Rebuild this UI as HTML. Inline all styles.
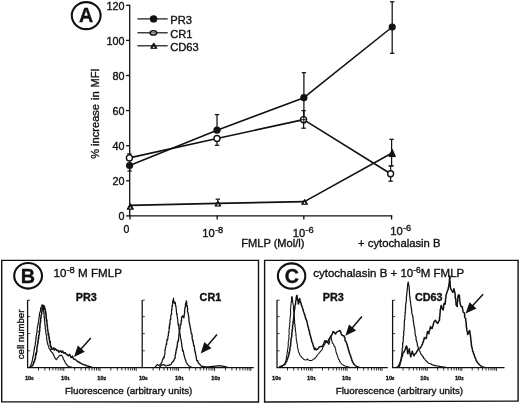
<!DOCTYPE html><html><head><meta charset="utf-8"><title>Figure</title>
<style>html,body{margin:0;padding:0;background:#fff}svg{display:block}text{font-family:"Liberation Sans", Arial, Helvetica, sans-serif;fill:#111;stroke:#111;stroke-width:0.35px}</style></head><body>
<svg width="520" height="404" viewBox="0 0 520 404">
<rect x="0" y="0" width="520" height="404" fill="#fff"/>
<g stroke="#111" stroke-width="1.3" fill="none">
<path d="M129.7 4.7 V215.9 H392.2"/>
<path d="M126.1 215.9 H129.7"/>
<path d="M126.1 180.8 H129.7"/>
<path d="M126.1 145.7 H129.7"/>
<path d="M126.1 110.6 H129.7"/>
<path d="M126.1 75.5 H129.7"/>
<path d="M126.1 40.4 H129.7"/>
<path d="M126.1 5.3 H129.7"/>
<path d="M130.0 215.4 V219.5"/>
<path d="M217.2 215.4 V219.5"/>
<path d="M303.8 215.4 V219.5"/>
<path d="M391.6 215.4 V219.5"/>
</g>
<text x="124.4" y="220.1" font-size="10.8" text-anchor="end">0</text>
<text x="124.4" y="185.0" font-size="10.8" text-anchor="end">20</text>
<text x="124.4" y="149.9" font-size="10.8" text-anchor="end">40</text>
<text x="124.4" y="114.8" font-size="10.8" text-anchor="end">60</text>
<text x="124.4" y="79.7" font-size="10.8" text-anchor="end">80</text>
<text x="124.4" y="44.6" font-size="10.8" text-anchor="end">100</text>
<text x="124.4" y="9.5" font-size="10.8" text-anchor="end">120</text>
<text transform="translate(98.6 158.7) rotate(-90)" font-size="11.1">%</text>
<text transform="translate(98.6 145.9) rotate(-90)" font-size="11.1">increase</text>
<text transform="translate(98.6 99.9) rotate(-90)" font-size="11.1">in</text>
<text transform="translate(98.6 87.6) rotate(-90)" font-size="11.1">MFI</text>
<text x="126.4" y="232.8" font-size="10.5" text-anchor="middle">0</text>
<text x="202.3" y="236.6" font-size="11.2" text-anchor="start">10<tspan dy="-3.3" dx="0.3" font-size="9.2">-8</tspan></text>
<text x="292.7" y="236.5" font-size="11.2" text-anchor="start">10<tspan dy="-3.3" dx="0.3" font-size="9.2">-6</tspan></text>
<text x="390.3" y="234.6" font-size="11.2" text-anchor="start">10<tspan dy="-3.3" dx="0.3" font-size="9.2">-6</tspan></text>
<text x="241.2" y="246.9" font-size="11.1">FMLP (Mol/l)</text>
<text x="358.0" y="246.5" font-size="11.3">+ cytochalasin B</text>
<g stroke="#111" stroke-width="1.25" fill="none">
<path d="M129.6 165.5 V171.0" />
<path d="M127.4 171.0 H131.8" />
<path d="M217.0 114.6 V130.2" />
<path d="M214.8 114.6 H219.2" />
<path d="M303.9 72.7 V122.7" />
<path d="M301.7 72.7 H306.1" />
<path d="M301.7 122.7 H306.1" />
<path d="M392.2 1.8 V53.3" />
<path d="M390.0 1.8 H394.4" />
<path d="M390.0 53.3 H394.4" />
<path d="M129.4 153.9 V157.9" />
<path d="M127.2 153.9 H131.6" />
<path d="M217.0 138.5 V145.3" />
<path d="M214.8 145.3 H219.2" />
<path d="M303.6 110.6 V128.2" />
<path d="M301.4 110.6 H305.8" />
<path d="M301.4 128.2 H305.8" />
<path d="M390.6 166.0 V181.2" />
<path d="M388.4 166.0 H392.8" />
<path d="M388.4 181.2 H392.8" />
<path d="M217.8 199.2 V203.4" />
<path d="M215.6 199.2 H220.0" />
<path d="M391.6 139.3 V165.8" />
<path d="M389.4 139.3 H393.8" />
<path d="M389.4 165.8 H393.8" />
</g>
<g stroke="#111" stroke-width="1.6" fill="none" stroke-linejoin="round">
<polyline points="129.6,165.5 217.0,130.2 303.9,97.7 392.2,27.0"/>
<polyline points="129.4,157.9 217.0,138.5 303.6,119.6 390.6,173.8"/>
<polyline points="129.6,205.4 217.8,203.4 304.4,201.6 391.6,153.3"/>
</g>
<circle cx="129.6" cy="165.5" r="3.6" fill="#111"/>
<circle cx="217.0" cy="130.2" r="3.6" fill="#111"/>
<circle cx="303.9" cy="97.7" r="3.6" fill="#111"/>
<circle cx="392.2" cy="27.0" r="3.6" fill="#111"/>
<circle cx="129.4" cy="157.9" r="3.0" fill="#fff" stroke="#111" stroke-width="1.4"/>
<circle cx="217.0" cy="138.5" r="3.0" fill="#fff" stroke="#111" stroke-width="1.4"/>
<circle cx="303.6" cy="119.6" r="3.0" fill="#fff" stroke="#111" stroke-width="1.4"/>
<circle cx="390.6" cy="173.8" r="3.0" fill="#fff" stroke="#111" stroke-width="1.4"/>
<path d="M130.30 203.60 L133.45 209.20 L127.15 209.20 Z" fill="#111" stroke="#111" stroke-width="1" stroke-linejoin="miter"/><path d="M130.30 206.70 L131.45 208.60 L129.15 208.60 Z" fill="#fff"/>
<path d="M217.90 201.00 L220.85 206.10 L214.95 206.10 Z" fill="#111" stroke="#111" stroke-width="1" stroke-linejoin="miter"/><path d="M217.90 203.60 L219.05 205.50 L216.75 205.50 Z" fill="#fff"/>
<path d="M304.60 199.30 L307.55 204.30 L301.65 204.30 Z" fill="#111" stroke="#111" stroke-width="1" stroke-linejoin="miter"/><path d="M304.60 201.80 L305.75 203.70 L303.45 203.70 Z" fill="#fff"/>
<path d="M392.20 149.20 L395.45 156.60 L388.95 156.60 Z" fill="#111" stroke="#111" stroke-width="1" stroke-linejoin="miter"/>
<path d="M303.8 110 V124" stroke="#111" stroke-width="1.1"/>
<path d="M300.6 119.6 H306.8" stroke="#111" stroke-width="0.8"/>
<g stroke="#111" stroke-width="1.2" fill="none">
<path d="M137.4 18.9 H167.7"/>
<path d="M137.4 32.8 H167.7"/>
<path d="M137.4 45.8 H167.7"/>
</g>
<circle cx="153.6" cy="18.9" r="3.7" fill="#111"/>
<ellipse cx="153.4" cy="32.9" rx="3.3" ry="2.1" fill="#fff" stroke="#111" stroke-width="1.4"/>
<path d="M150 32.9 H157" stroke="#111" stroke-width="0.9"/>
<path d="M153.80 42.90 L156.95 48.30 L150.65 48.30 Z" fill="#111" stroke="#111" stroke-width="1" stroke-linejoin="miter"/><path d="M153.80 45.80 L154.95 47.70 L152.65 47.70 Z" fill="#fff"/>
<path d="M151 45.9 H156" stroke="#111" stroke-width="0.9"/>
<text x="170.2" y="23.8" font-size="11.2">PR3</text>
<text x="170.2" y="37.6" font-size="11.2">CR1</text>
<text x="170.2" y="50.7" font-size="11.2">CD63</text>
<ellipse cx="86.2" cy="15.6" rx="14.4" ry="13.5" fill="none" stroke="#111" stroke-width="2.1"/>
<text x="86.1" y="22.4" font-size="19.6" font-weight="bold" text-anchor="middle" stroke-width="0.4">A</text>
<g stroke="#111" stroke-width="1.4" fill="none">
<path d="M1.7 260.4 H258.5 V402.0 L1.7 401.8 Z"/>
<path d="M264.6 260.4 H518.1 V401.1 L264.6 402.0 Z"/>
</g>
<ellipse cx="28.1" cy="275.8" rx="13.9" ry="12.8" fill="none" stroke="#111" stroke-width="2.1"/>
<text x="27.9" y="283.0" font-size="19.8" font-weight="bold" text-anchor="middle" stroke-width="0.4">B</text>
<ellipse cx="291.6" cy="276.0" rx="13.7" ry="12.6" fill="none" stroke="#111" stroke-width="2.1"/>
<text x="291.8" y="283.0" font-size="19.6" font-weight="bold" text-anchor="middle" stroke-width="0.4">C</text>
<text x="53.6" y="277" font-size="11.6">10<tspan dy="-3.8" font-size="9.4">-8</tspan><tspan dy="3.8"> M FMLP</tspan></text>
<text x="313.2" y="276.8" font-size="11.5">cytochalasin B + 10<tspan dy="-4" font-size="8.5">-6</tspan><tspan dy="4">M FMLP</tspan></text>
<text x="64.9" y="393.7" font-size="9.8">Fluorescence (arbitrary units)</text>
<text x="335.7" y="393.7" font-size="9.8">Fluorescence (arbitrary units)</text>
<text transform="translate(24.2 334.4) rotate(-90)" font-size="9.6" text-anchor="middle" stroke-width="0.35">cell number</text>
<text x="75.7" y="301.0" font-size="10.8" font-weight="bold" stroke-width="0.15">PR3</text>
<text x="199.6" y="301.0" font-size="10.8" font-weight="bold" stroke-width="0.15">CR1</text>
<text x="322.8" y="301.0" font-size="10.8" font-weight="bold" stroke-width="0.15">PR3</text>
<text x="414.9" y="301.0" font-size="10.8" font-weight="bold" stroke-width="0.15">CD63</text>
<g stroke="#111" stroke-width="1.1" fill="none">
<path d="M27.6 300.0 V367.6 H142.1" stroke-width="1.25"/>
<path d="M27.6 300.2 H30.2" stroke-width="0.8"/>
<path d="M27.6 316.6 H30.2" stroke-width="0.8"/>
<path d="M27.6 333.6 H30.2" stroke-width="0.8"/>
<path d="M27.6 350.8 H30.2" stroke-width="0.8"/>
</g>
<g stroke="#111" stroke-width="0.85" fill="none">
<path d="M38.5 367.6v2.9M44.9 367.6v2.9M49.4 367.6v2.9M52.9 367.6v2.9M55.8 367.6v2.9M58.2 367.6v2.9M60.3 367.6v2.9M62.1 367.6v2.9M63.8 367.6v3.4M74.7 367.6v2.9M81.1 367.6v2.9M85.6 367.6v2.9M89.1 367.6v2.9M92.0 367.6v2.9M94.4 367.6v2.9M96.5 367.6v2.9M98.3 367.6v2.9M100.0 367.6v3.4M110.9 367.6v2.9M117.3 367.6v2.9M121.8 367.6v2.9M125.3 367.6v2.9M128.2 367.6v2.9M130.6 367.6v2.9M132.7 367.6v2.9M134.5 367.6v2.9M136.2 367.6v3.4"/>
</g>
<text x="29.2" y="379.5" font-size="5.7" font-weight="bold" text-anchor="middle">10<tspan font-size="4" dy="0.5">0</tspan></text>
<text x="65.4" y="379.5" font-size="5.7" font-weight="bold" text-anchor="middle">10<tspan font-size="4" dy="0.5">1</tspan></text>
<text x="101.6" y="379.5" font-size="5.7" font-weight="bold" text-anchor="middle">10<tspan font-size="4" dy="0.5">2</tspan></text>
<g stroke="#111" stroke-width="1.1" fill="none">
<path d="M142.2 300.0 V367.6 H253.8" stroke-width="1.25"/>
<path d="M142.2 300.2 H144.8" stroke-width="0.8"/>
<path d="M142.2 316.6 H144.8" stroke-width="0.8"/>
<path d="M142.2 333.6 H144.8" stroke-width="0.8"/>
<path d="M142.2 350.8 H144.8" stroke-width="0.8"/>
</g>
<g stroke="#111" stroke-width="0.85" fill="none">
<path d="M153.1 367.6v2.9M159.5 367.6v2.9M164.0 367.6v2.9M167.5 367.6v2.9M170.4 367.6v2.9M172.8 367.6v2.9M174.9 367.6v2.9M176.7 367.6v2.9M178.4 367.6v3.4M189.3 367.6v2.9M195.7 367.6v2.9M200.2 367.6v2.9M203.7 367.6v2.9M206.6 367.6v2.9M209.0 367.6v2.9M211.1 367.6v2.9M212.9 367.6v2.9M214.6 367.6v3.4M225.5 367.6v2.9M231.9 367.6v2.9M236.4 367.6v2.9M239.9 367.6v2.9M242.8 367.6v2.9M245.2 367.6v2.9M247.3 367.6v2.9M249.1 367.6v2.9M250.8 367.6v3.4"/>
</g>
<text x="143.2" y="379.5" font-size="5.7" font-weight="bold" text-anchor="middle">10<tspan font-size="4" dy="0.5">0</tspan></text>
<text x="179.4" y="379.5" font-size="5.7" font-weight="bold" text-anchor="middle">10<tspan font-size="4" dy="0.5">1</tspan></text>
<text x="215.6" y="379.5" font-size="5.7" font-weight="bold" text-anchor="middle">10<tspan font-size="4" dy="0.5">2</tspan></text>
<g stroke="#111" stroke-width="1.1" fill="none">
<path d="M277.0 300.0 V367.6 H387.8" stroke-width="1.25"/>
<path d="M277.0 300.2 H279.6" stroke-width="0.8"/>
<path d="M277.0 316.6 H279.6" stroke-width="0.8"/>
<path d="M277.0 333.6 H279.6" stroke-width="0.8"/>
<path d="M277.0 350.8 H279.6" stroke-width="0.8"/>
</g>
<g stroke="#111" stroke-width="0.85" fill="none">
<path d="M287.5 367.6v2.9M293.7 367.6v2.9M298.1 367.6v2.9M301.5 367.6v2.9M304.2 367.6v2.9M306.6 367.6v2.9M308.6 367.6v2.9M310.4 367.6v2.9M312.0 367.6v3.4M322.5 367.6v2.9M328.7 367.6v2.9M333.1 367.6v2.9M336.5 367.6v2.9M339.2 367.6v2.9M341.6 367.6v2.9M343.6 367.6v2.9M345.4 367.6v2.9M347.0 367.6v3.4M357.5 367.6v2.9M363.7 367.6v2.9M368.1 367.6v2.9M371.5 367.6v2.9M374.2 367.6v2.9M376.6 367.6v2.9M378.6 367.6v2.9M380.4 367.6v2.9M382.0 367.6v3.4"/>
</g>
<text x="276.4" y="379.5" font-size="5.7" font-weight="bold" text-anchor="middle">10<tspan font-size="4" dy="0.5">0</tspan></text>
<text x="311.4" y="379.5" font-size="5.7" font-weight="bold" text-anchor="middle">10<tspan font-size="4" dy="0.5">1</tspan></text>
<text x="346.4" y="379.5" font-size="5.7" font-weight="bold" text-anchor="middle">10<tspan font-size="4" dy="0.5">2</tspan></text>
<g stroke="#111" stroke-width="1.1" fill="none">
<path d="M392.6 300.0 V367.6 H504.5" stroke-width="1.25"/>
<path d="M392.6 300.2 H395.2" stroke-width="0.8"/>
<path d="M392.6 316.6 H395.2" stroke-width="0.8"/>
<path d="M392.6 333.6 H395.2" stroke-width="0.8"/>
<path d="M392.6 350.8 H395.2" stroke-width="0.8"/>
</g>
<g stroke="#111" stroke-width="0.85" fill="none">
<path d="M403.0 367.6v2.9M409.1 367.6v2.9M413.4 367.6v2.9M416.8 367.6v2.9M419.5 367.6v2.9M421.8 367.6v2.9M423.8 367.6v2.9M425.6 367.6v2.9M427.2 367.6v3.4M437.6 367.6v2.9M443.7 367.6v2.9M448.0 367.6v2.9M451.4 367.6v2.9M454.1 367.6v2.9M456.4 367.6v2.9M458.4 367.6v2.9M460.2 367.6v2.9M461.8 367.6v3.4M472.2 367.6v2.9M478.3 367.6v2.9M482.6 367.6v2.9M486.0 367.6v2.9M488.7 367.6v2.9M491.0 367.6v2.9M493.0 367.6v2.9M494.8 367.6v2.9M496.4 367.6v3.4"/>
</g>
<text x="390.0" y="379.5" font-size="5.7" font-weight="bold" text-anchor="middle">10<tspan font-size="4" dy="0.5">0</tspan></text>
<text x="424.6" y="379.5" font-size="5.7" font-weight="bold" text-anchor="middle">10<tspan font-size="4" dy="0.5">1</tspan></text>
<text x="459.2" y="379.5" font-size="5.7" font-weight="bold" text-anchor="middle">10<tspan font-size="4" dy="0.5">2</tspan></text>
<polyline points="29.6,367.3 30.0,366.5 30.5,365.5 30.9,365.0 31.3,363.8 31.7,363.1 31.9,362.2 32.1,360.8 32.3,361.1 32.4,360.0 32.7,357.9 32.9,357.9 32.9,356.0 33.4,355.9 33.4,355.8 33.6,355.0 33.6,353.9 33.7,353.2 34.1,350.8 33.9,350.1 34.4,349.6 34.4,348.4 34.5,347.7 34.5,347.2 34.8,346.8 35.0,345.9 35.2,345.1 35.3,342.6 35.5,343.2 35.7,341.5 35.8,339.9 36.0,339.6 35.8,337.7 36.2,338.5 36.0,337.2 36.3,335.1 36.4,335.3 36.8,333.0 36.8,332.0 37.0,331.6 37.2,331.9 37.1,331.0 37.2,328.3 37.5,327.3 37.4,327.0 37.8,325.6 37.6,326.0 37.9,325.2 38.3,323.2 38.2,322.5 38.5,321.7 38.6,320.8 38.9,319.6 38.8,319.1 38.9,317.4 39.4,316.8 39.4,314.9 39.4,315.0 39.4,314.2 39.9,312.2 40.1,312.0 40.4,310.9 40.6,310.6 40.5,308.4 41.1,309.2 41.1,307.3 41.6,306.2 41.9,305.3 42.2,304.8 42.5,305.5 43.0,306.0 43.2,308.4 43.2,308.5 43.6,309.5 43.4,310.9 43.8,311.3 43.7,312.7 44.1,313.9 44.2,314.4 44.0,316.2 44.4,316.7 44.1,317.0 44.4,318.0 44.6,320.1 44.4,320.0 44.8,321.6 44.9,321.9 44.6,322.7 45.0,323.6 44.9,324.8 45.1,325.6 45.4,326.1 45.1,328.5 45.6,329.5 45.5,330.3 45.8,329.8 45.8,331.9 45.9,332.2 45.8,332.8 45.9,333.2 46.2,334.5 46.4,334.9 46.6,337.0 46.8,338.3 46.9,338.6 46.6,339.8 46.8,339.9 47.2,341.2 47.3,342.8 47.7,342.7 47.8,344.6 48.2,345.5 48.4,345.5 48.8,347.4 49.0,348.2 49.8,349.1 50.2,348.9 50.5,350.8 50.8,350.9 51.5,351.9 52.2,352.6 52.8,352.9 53.0,353.9 53.5,354.8 54.4,356.7 54.6,357.4 55.3,358.4 56.3,359.7 57.0,358.8 57.4,358.0 58.0,357.4 58.9,356.3 59.8,355.4 61.3,355.3 62.1,356.0 62.8,357.2 63.0,357.8 63.5,359.3 64.0,360.2 64.5,360.7 65.1,362.2 65.5,363.0 66.1,364.0 66.7,364.5 67.3,365.5 68.0,366.0 68.8,366.6 69.9,366.8 70.9,367.0 72.0,367.2" fill="none" stroke="#111" stroke-width="1.15" stroke-linejoin="round"/>
<polyline points="31.0,367.3 31.5,366.5 32.1,365.8 32.7,365.3 33.3,364.1 33.5,363.2 33.7,361.9 34.0,362.5 34.5,361.4 34.8,359.0 34.8,359.3 35.3,359.0 35.6,356.0 35.6,356.7 35.7,354.4 35.9,353.3 36.3,354.6 36.3,352.1 36.6,352.0 36.8,351.9 36.8,349.8 37.0,348.9 36.9,347.6 37.4,346.0 37.1,346.7 37.4,345.6 37.6,344.1 38.0,342.8 37.8,341.9 38.1,341.2 38.1,341.6 38.2,340.2 38.6,338.0 38.3,337.4 38.8,337.6 38.6,335.9 38.7,335.3 38.8,335.1 39.3,334.9 39.4,333.9 39.1,331.2 39.7,331.6 39.5,331.2 39.8,329.9 39.7,327.2 39.9,326.1 40.0,327.4 40.0,323.8 40.0,323.3 40.5,322.9 40.4,321.2 40.8,321.1 40.5,319.1 40.6,318.5 41.0,317.5 40.8,317.5 41.0,318.0 41.1,315.7 41.5,314.4 41.8,313.7 41.6,312.6 41.6,311.7 41.8,312.0 42.3,310.0 42.1,308.4 42.4,307.3 42.6,308.2 42.8,305.5 43.9,305.4 44.1,306.1 44.2,307.9 44.3,309.2 44.4,306.4 44.6,307.4 45.0,308.5 44.9,308.7 45.2,309.6 45.3,310.2 45.4,311.5 45.3,313.2 45.8,311.8 45.9,315.3 45.9,313.7 46.1,315.0 46.3,317.5 46.0,317.1 46.4,319.1 46.5,321.0 46.4,319.3 46.9,320.2 46.9,321.4 47.0,324.2 47.2,324.4 47.3,324.4 47.3,325.6 47.5,327.8 47.4,328.1 47.4,327.7 47.8,330.0 48.1,331.3 47.9,331.6 48.3,333.1 48.1,334.9 48.7,333.8 48.7,335.6 49.0,336.3 48.9,337.7 49.4,337.5 49.2,339.9 49.7,340.5 49.7,342.4 50.1,341.1 50.3,342.4 50.3,345.1 50.5,345.9 50.6,346.8 51.0,346.1 51.5,347.4 51.8,349.3 52.7,349.1 52.9,349.1 53.4,348.2 53.9,347.9 54.3,350.1 55.3,348.9 56.2,349.6 56.7,350.5 57.7,350.3 58.4,351.3 58.9,352.1 60.3,350.8 60.8,351.0 61.5,352.4 62.7,351.0 63.0,352.0 64.0,353.2 65.2,352.6 65.6,353.5 66.3,354.3 67.4,354.8 67.8,355.3 68.5,355.8 69.6,354.4 70.6,356.8 71.2,357.6 72.4,356.1 72.8,357.4 73.4,358.7 74.9,359.4 75.8,360.0 76.8,360.7 77.4,361.3 78.1,361.9 79.0,362.1 79.9,362.8 80.5,363.0 81.5,363.7 82.5,364.2 83.4,364.5 84.5,364.9 85.5,365.3 86.6,365.8 87.5,366.1 88.4,366.3 89.3,366.5 90.2,366.8 91.1,367.0 92.0,367.2" fill="none" stroke="#111" stroke-width="1.50" stroke-linejoin="round"/>
<polyline points="155.0,367.3 155.7,366.5 156.3,365.6 157.2,364.6 158.2,365.1 159.1,365.3 160.0,364.6 161.0,364.1 161.2,362.8 161.7,362.8 162.2,360.8 162.6,359.8 162.9,358.8 163.0,359.5 163.5,357.1 164.2,357.8 164.1,357.2 164.4,355.5 164.4,355.3 164.8,354.5 165.0,351.7 164.9,350.5 165.0,349.3 165.2,349.9 165.3,349.2 165.6,347.3 166.0,346.8 165.9,345.9 166.3,343.9 166.6,342.9 166.7,344.3 166.5,343.3 166.9,341.8 166.9,339.4 167.1,341.1 167.3,339.6 167.9,339.3 167.8,336.7 168.0,337.0 168.0,336.1 168.5,335.5 168.3,334.8 168.5,332.1 168.9,332.8 168.9,331.9 169.1,329.2 169.1,327.9 169.1,326.8 169.6,328.2 169.4,324.6 170.0,325.0 169.8,323.2 170.0,323.9 170.1,321.9 170.0,322.3 170.1,320.2 170.7,318.3 170.7,319.6 170.8,318.2 170.7,316.3 170.8,316.5 171.0,314.5 171.5,314.7 171.6,312.7 171.5,312.5 171.6,310.3 171.7,309.0 171.7,310.5 172.1,308.6 172.0,306.8 171.9,305.8 172.4,306.5 172.3,305.4 172.6,304.2 172.7,303.5 172.6,302.5 172.7,301.0 173.2,300.5 173.2,300.1 173.6,298.0 173.4,299.0 173.7,300.4 173.9,301.8 174.1,302.8 174.1,303.3 174.7,302.7 174.9,302.0 175.3,302.5 175.5,304.2 175.4,303.9 175.4,305.7 175.9,305.6 175.9,307.3 176.0,306.7 176.2,308.8 176.3,309.3 176.4,311.2 176.5,312.0 176.4,311.4 176.7,313.6 176.7,314.6 177.1,313.8 177.1,315.2 177.0,315.8 177.3,316.9 177.4,317.4 177.6,319.3 177.9,320.8 177.8,322.6 177.8,322.1 178.1,323.0 178.1,325.1 178.4,323.8 178.7,324.9 178.8,326.5 178.9,329.1 179.2,328.6 179.4,330.1 179.3,329.6 179.5,331.7 179.9,333.8 179.9,333.0 180.1,333.0 179.9,335.5 180.3,335.2 180.5,338.2 180.5,337.9 180.6,338.4 181.1,339.6 181.3,342.0 181.2,341.1 181.6,342.6 181.5,343.0 181.9,344.4 181.7,345.3 181.8,346.6 182.1,346.6 182.5,349.0 182.3,349.1 182.6,351.2 183.1,350.2 183.1,351.0 183.6,352.3 183.7,353.8 183.9,355.1 184.2,354.8 184.4,356.3 184.7,357.3 184.9,358.7 185.3,359.3 185.8,360.7 185.9,361.0 186.4,362.9 187.1,363.3 187.4,364.3 188.0,364.9 188.6,365.7 189.6,366.3 190.6,366.8 191.6,367.3" fill="none" stroke="#111" stroke-width="1.20" stroke-linejoin="round"/>
<polyline points="159.5,367.3 160.2,366.5 160.8,365.8 161.5,365.1 162.5,364.8 163.5,364.6 164.4,364.9 165.2,365.5 166.0,366.0 167.3,365.5 168.5,365.3 169.6,364.8 170.5,364.8 171.3,363.8 171.7,362.8 172.4,362.1 173.2,361.7 173.3,360.9 173.8,360.6 174.5,358.8 174.8,358.2 175.3,358.1 175.1,355.4 175.5,354.3 175.7,352.7 176.0,353.0 175.9,352.4 176.1,350.1 176.4,348.9 176.5,350.0 176.9,346.6 177.1,345.8 177.0,347.3 177.3,344.8 177.4,344.1 177.4,344.9 177.5,342.4 178.0,341.4 178.3,340.1 178.5,341.0 178.5,340.1 178.5,339.0 178.8,337.2 178.8,336.8 178.9,334.2 179.2,333.7 179.2,334.3 179.2,331.2 179.3,331.9 179.6,330.0 179.8,331.0 179.8,328.6 180.3,328.2 180.1,326.9 180.3,325.1 180.5,324.6 180.8,323.7 180.9,324.6 181.2,322.1 181.2,321.0 181.3,320.5 181.6,320.9 181.5,317.3 181.8,316.9 182.1,317.1 182.7,315.7 183.9,317.9 184.3,314.5 184.1,316.0 184.4,313.6 184.6,313.7 184.6,311.8 184.5,310.5 184.7,310.3 185.0,307.9 185.1,306.8 185.0,307.4 185.3,307.1 185.6,305.6 185.4,304.9 185.6,303.3 186.1,303.1 186.3,300.9 186.3,300.8 186.1,302.2 186.7,301.8 186.7,302.9 186.6,304.6 186.6,305.8 187.2,305.4 187.3,305.8 187.4,307.4 187.6,308.8 187.7,308.6 187.4,311.8 187.8,312.0 187.7,311.9 188.0,312.6 188.5,315.5 188.6,316.3 188.4,315.5 188.8,316.6 188.8,318.5 188.9,318.3 188.9,320.5 189.0,321.4 189.2,321.7 189.4,323.4 189.6,323.4 189.7,325.2 190.2,325.8 190.0,326.4 190.3,328.1 190.7,329.0 190.6,329.3 190.9,330.6 191.1,333.1 191.4,333.1 191.7,334.0 192.0,334.1 192.0,336.7 192.0,336.7 192.2,336.0 192.2,338.8 192.4,339.6 192.6,339.5 192.7,340.9 193.2,340.9 193.3,343.8 193.3,343.4 193.7,345.4 193.6,345.7 193.7,345.1 194.3,345.8 194.5,348.6 194.5,349.5 194.7,349.1 194.7,349.8 195.1,352.3 195.2,351.6 195.4,352.7 195.7,355.0 196.1,355.8 196.2,356.9 196.1,357.4 196.3,357.7 196.6,360.0 196.9,360.8 197.7,360.7 197.9,360.9 198.0,361.9 198.4,363.1 199.4,364.0 200.2,364.8 200.9,365.6 201.8,366.5 202.8,366.5 203.9,366.6 204.9,366.7 205.9,366.8 207.0,366.9 208.0,367.0 209.0,366.9 210.0,366.7 211.0,366.6 212.0,366.5 213.0,366.4 214.0,366.3 215.0,366.1 215.9,366.1 216.8,365.9 217.7,365.8 218.7,365.9 219.6,365.6 220.7,365.8 221.8,366.1 222.9,366.2 224.0,366.3 225.2,366.7 226.3,367.0 227.4,367.3" fill="none" stroke="#111" stroke-width="1.30" stroke-linejoin="round"/>
<polyline points="279.1,367.2 280.0,366.8 280.9,366.5 281.8,366.2 282.9,365.6 284.1,364.9 284.7,364.0 285.2,362.4 285.6,362.2 285.8,360.7 286.2,359.3 286.4,358.7 286.2,357.4 286.5,357.2 286.6,355.8 287.1,354.4 287.2,353.0 287.0,352.3 287.5,351.6 287.4,350.9 287.6,349.5 287.9,349.1 287.8,347.9 288.0,347.4 288.2,345.6 288.4,344.4 288.2,344.3 288.2,342.9 288.2,342.2 288.6,341.1 288.8,339.7 288.8,339.2 288.8,338.1 289.0,337.8 288.9,336.5 288.7,335.6 289.1,335.0 289.3,333.1 289.1,332.7 289.0,331.5 289.1,330.1 289.1,330.0 289.2,328.3 289.4,328.2 289.3,326.7 289.6,326.3 289.8,325.3 289.6,323.7 289.7,323.4 290.1,321.4 289.8,320.6 289.9,320.0 290.1,318.7 289.9,317.9 290.1,317.2 290.5,316.4 290.4,315.3 290.5,313.6 290.7,313.6 290.7,312.7 290.6,311.1 290.5,310.5 290.5,308.8 290.7,308.0 290.8,306.9 290.7,306.1 290.8,305.5 290.9,305.3 291.2,303.4 291.1,302.7 291.2,301.5 291.6,301.7 291.5,300.0 291.4,298.5 291.6,297.7 292.0,296.6 291.7,296.7 292.1,296.6 292.3,297.4 292.4,299.7 292.8,300.3 292.6,300.8 292.7,302.4 293.0,303.5 293.0,303.7 293.3,305.8 293.5,306.6 293.5,307.5 293.3,308.2 293.5,308.5 293.4,309.8 293.6,311.3 294.1,312.0 294.1,313.7 294.2,313.8 293.9,314.6 294.0,315.5 294.3,317.4 294.5,317.7 294.5,319.1 294.3,319.9 294.7,321.0 294.7,321.5 294.5,322.9 294.7,323.9 295.1,324.2 294.9,326.0 295.2,325.8 295.0,326.7 295.4,328.6 295.1,329.6 295.7,330.3 295.4,331.1 295.4,331.3 296.0,333.1 295.9,334.5 295.9,335.4 296.2,335.4 296.1,336.5 296.2,337.9 296.3,338.6 296.4,340.3 296.6,340.6 296.9,342.2 296.9,343.2 297.1,343.7 297.3,343.9 297.4,345.2 297.4,347.1 297.6,347.7 298.1,348.9 298.1,349.9 298.4,351.2 298.5,351.9 298.9,352.6 299.5,353.8 299.9,355.1 300.6,355.9 301.3,356.7 302.0,357.7 302.8,358.4 303.7,359.2 304.7,359.7 305.7,359.9 306.5,359.9 307.6,359.0 308.3,359.9 309.4,360.5 310.4,360.5 311.7,360.4 312.4,360.1 313.5,359.0 314.5,358.9 315.1,358.2 315.8,357.1 316.7,356.6 316.9,355.6 317.7,354.8 318.2,354.0 319.1,353.1 319.6,352.7 320.0,351.9 320.9,351.1 321.2,350.6 322.2,349.7 322.5,348.1 322.8,347.8 323.3,346.2 323.7,346.2 324.3,344.6 324.7,344.1 325.6,342.8 325.9,341.2 326.7,340.6 327.1,341.7 328.1,342.3 328.3,343.3 328.9,344.5 329.3,342.7 329.6,342.4 329.7,340.2 330.0,339.2 330.1,338.0 330.3,336.9 330.7,335.9 331.2,337.0 331.3,338.0 331.5,338.9 331.7,340.1 332.2,342.0 332.2,343.1 333.2,343.7 333.8,344.9 334.2,346.0 334.8,346.5 335.2,348.0 335.3,348.7 335.7,349.3 335.8,349.8 335.8,350.5 336.1,352.4 336.5,352.7 336.7,354.4 337.4,355.1 337.4,355.4 337.7,356.6 338.0,357.6 338.5,359.2 339.2,359.7 339.4,361.0 340.0,361.5 340.4,362.5 341.2,363.3 341.7,364.0 342.3,364.6 343.2,365.1 344.1,365.5 345.0,366.0 346.1,366.3 347.1,366.6 348.2,366.9 349.1,367.1 350.1,367.2 351.0,367.4" fill="none" stroke="#111" stroke-width="1.05" stroke-linejoin="round"/>
<polyline points="279.1,367.2 280.2,366.7 281.3,366.2 282.5,365.8 283.4,365.2 284.3,364.6 285.1,364.1 285.6,362.9 286.1,361.9 286.8,361.3 287.1,359.6 287.4,359.4 287.7,358.0 288.2,357.1 288.4,356.2 288.7,355.3 289.1,354.3 288.9,352.8 289.5,352.4 289.3,352.0 289.7,350.8 290.0,349.4 289.9,349.1 290.0,348.0 290.1,347.0 290.5,346.3 290.7,344.9 290.5,343.5 290.8,342.9 290.7,342.4 291.1,341.2 291.0,339.7 291.1,338.8 291.3,338.0 291.5,337.5 291.8,335.8 291.7,334.9 291.9,334.8 291.8,333.7 292.0,331.9 292.3,331.4 292.1,330.5 292.3,329.6 292.5,328.7 292.6,327.6 292.5,326.5 292.5,326.1 292.8,325.5 292.9,324.4 293.3,322.8 292.9,322.0 293.1,321.6 293.4,320.4 293.6,319.2 293.6,318.5 293.7,317.4 293.9,317.3 294.0,316.2 293.7,315.7 293.9,313.8 294.1,313.3 294.2,312.0 294.1,311.5 294.4,310.1 294.5,309.8 294.8,308.6 294.8,307.3 294.9,306.1 295.2,304.9 295.5,304.4 295.6,302.6 295.6,302.0 295.6,301.6 296.1,300.0 296.2,298.7 296.1,298.1 296.6,297.2 296.4,296.2 297.0,295.4 297.2,296.5 297.0,296.7 297.3,298.3 297.4,299.2 297.8,299.6 297.8,301.0 298.1,301.2 298.3,302.0 298.2,303.8 298.6,304.0 298.4,303.4 298.9,302.6 299.1,301.7 299.2,300.7 299.2,299.5 299.6,298.6 300.0,299.3 299.9,300.5 300.3,301.1 300.5,302.4 300.8,302.8 301.3,303.9 301.3,305.2 301.6,305.5 302.2,306.8 302.3,307.2 302.7,308.4 303.0,309.2 303.3,310.6 303.4,311.5 304.0,312.8 304.4,313.6 304.3,314.4 304.9,314.9 305.1,316.7 305.7,317.8 305.6,318.5 306.3,319.5 306.4,319.9 307.0,321.8 307.1,322.3 307.4,323.7 307.6,324.5 307.7,325.2 307.9,326.3 308.3,327.1 308.6,328.3 308.6,329.3 309.0,330.5 309.5,331.1 309.5,332.4 309.7,333.9 309.9,334.2 310.4,335.9 310.8,336.8 310.8,338.0 311.2,338.5 311.4,339.9 311.8,340.8 311.7,341.4 312.2,342.3 312.7,343.4 313.1,344.9 313.3,345.9 313.8,347.1 314.1,348.3 314.4,349.3 314.6,349.7 315.6,348.2 315.7,349.2 316.2,349.8 317.1,349.4 317.9,348.8 318.9,347.3 319.6,346.8 321.1,346.5 322.6,346.2 322.9,345.2 323.3,344.9 323.7,343.8 324.3,342.3 324.7,341.3 324.8,340.7 326.0,342.0 327.4,342.7 328.1,341.2 328.5,340.1 328.8,339.5 329.6,338.3 330.2,337.4 330.8,336.3 331.5,335.6 331.9,334.4 332.6,333.3 332.9,332.1 333.0,331.6 334.6,332.5 334.8,333.1 335.6,333.9 336.5,332.3 337.5,331.6 338.7,331.1 339.9,330.5 340.5,331.5 340.9,332.6 341.2,333.7 341.6,334.8 342.8,335.5 343.9,335.8 344.3,336.6 344.5,337.5 345.0,338.1 345.0,339.8 345.2,340.8 345.8,341.3 346.2,342.3 346.8,343.3 346.8,344.2 347.4,345.2 347.5,346.8 348.0,347.4 348.2,348.2 348.3,349.4 348.7,350.4 349.1,351.4 349.2,352.5 349.5,352.9 349.9,354.3 350.3,355.1 350.6,355.4 350.5,356.1 351.1,357.7 351.4,358.1 351.6,359.2 351.8,360.2 352.2,360.7 352.5,362.0 353.2,362.9 353.9,364.1 354.8,365.0 355.7,365.7 356.5,366.4 357.6,366.7 358.7,367.1 359.8,367.4" fill="none" stroke="#111" stroke-width="1.50" stroke-linejoin="round"/>
<polyline points="396.6,367.4 397.3,366.8 398.1,366.1 398.7,365.1 399.2,364.3 399.7,363.3 400.1,362.5 400.4,361.3 400.5,360.3 400.9,360.5 401.2,359.4 401.3,358.4 401.3,356.7 401.7,356.3 401.7,354.4 401.7,353.6 401.8,353.5 401.9,352.6 402.4,350.3 402.2,350.1 402.1,349.0 402.7,347.6 402.6,346.7 402.7,346.9 402.6,344.6 402.6,344.5 402.7,342.9 403.0,343.2 403.1,341.5 403.3,340.1 403.3,339.2 403.4,339.5 403.2,337.9 403.5,336.3 403.4,336.6 403.9,334.3 403.8,334.6 403.7,333.1 403.6,331.7 404.0,331.1 404.1,329.4 404.0,329.6 404.2,328.0 404.1,327.9 404.3,325.4 404.4,324.9 404.3,323.8 404.4,323.0 404.3,322.5 404.3,321.8 404.4,320.8 404.8,319.5 404.9,318.1 404.9,317.4 404.8,317.3 404.9,315.5 405.2,314.5 405.2,313.3 405.4,312.5 405.0,312.6 405.2,311.6 405.6,310.2 405.2,308.4 405.4,308.0 405.7,308.0 405.6,305.8 405.8,304.9 405.6,304.7 406.0,303.0 406.0,303.1 406.2,301.7 406.3,300.5 406.3,300.5 406.5,299.2 406.2,297.6 406.5,296.9 406.6,295.9 406.8,295.2 406.5,294.2 406.8,293.9 406.9,292.4 407.0,292.7 407.1,291.7 406.9,290.8 407.5,289.1 407.4,288.1 407.6,286.3 407.6,286.1 407.5,285.3 407.9,283.3 408.1,282.7 408.2,281.8 408.3,282.9 408.7,284.6 408.8,285.5 409.1,286.2 409.2,286.3 409.2,288.2 409.3,288.9 409.1,289.5 409.5,290.5 409.3,291.7 409.6,292.9 409.4,294.1 409.7,295.0 409.6,296.2 410.0,297.1 410.3,297.8 409.9,298.0 410.1,299.5 410.1,299.6 410.2,300.3 410.7,302.6 410.6,303.1 410.7,303.7 410.8,304.8 410.8,305.2 411.1,306.0 411.2,308.1 411.1,307.7 411.6,308.6 411.5,310.9 411.9,311.0 411.7,312.1 412.0,313.9 412.5,314.9 412.7,316.2 412.8,317.1 413.0,316.8 412.9,318.0 413.2,319.4 413.2,320.9 413.4,320.8 413.5,322.1 413.8,323.2 413.8,323.5 413.9,324.6 414.0,325.9 414.1,327.0 414.5,327.0 414.6,328.3 414.7,329.8 415.0,331.2 415.1,331.2 415.1,332.3 415.0,333.7 415.4,335.2 415.5,336.0 415.7,335.8 416.0,337.0 416.1,337.5 416.0,339.8 416.2,339.5 416.4,340.3 417.0,342.7 417.1,342.7 417.4,343.8 417.2,345.1 417.6,345.4 417.9,346.4 418.1,347.6 418.8,348.4 418.7,349.4 419.0,350.1 419.8,351.3 420.2,352.3 420.3,352.5 420.9,353.9 421.3,354.4 422.0,355.2 422.5,356.2 423.3,356.7 423.6,358.3 424.6,358.7 425.0,359.5 425.9,360.8 426.4,361.0 427.6,362.1 428.6,363.2 429.6,363.5 430.5,363.8 431.6,364.4 432.5,364.8 433.6,365.1 434.7,365.6 435.6,365.7 436.6,365.9 437.6,366.0 438.6,366.2 439.6,366.4 440.7,366.5 441.6,366.7 442.7,366.8 443.8,367.0 444.9,367.2 446.0,367.4" fill="none" stroke="#111" stroke-width="1.20" stroke-linejoin="round"/>
<polyline points="398.6,367.4 399.1,366.5 399.6,365.7 399.9,364.5 400.1,363.5 400.3,362.7 400.8,361.2 401.0,360.7 401.0,359.5 401.4,358.7 401.7,357.9 401.6,357.1 402.4,356.2 402.6,354.6 402.6,353.7 403.4,352.8 404.1,351.8 404.6,350.7 405.2,349.5 405.5,349.1 405.6,347.7 406.0,346.8 406.6,346.0 406.8,346.9 407.1,347.6 407.1,348.9 407.3,349.7 407.5,350.7 407.3,352.2 407.9,352.9 407.8,353.7 408.0,353.0 408.2,351.7 408.6,350.8 409.0,350.1 409.4,348.8 409.4,349.8 409.4,351.1 409.7,351.8 409.8,353.0 410.2,353.9 410.5,355.1 410.4,355.9 410.9,356.9 411.0,355.5 411.2,354.7 411.5,353.5 411.8,352.7 412.0,351.6 412.3,351.2 412.5,351.5 412.6,352.7 412.9,353.3 413.3,354.7 414.1,355.9 414.4,354.9 415.0,354.0 416.1,353.1 416.6,351.9 417.1,351.2 417.8,349.7 419.3,348.7 420.5,347.8 421.1,346.7 421.6,345.8 421.9,344.9 422.6,344.1 422.6,343.0 423.3,341.9 423.7,340.3 423.9,339.3 424.2,338.9 424.3,337.6 425.1,338.5 426.0,338.4 426.5,338.1 426.4,337.0 426.7,335.9 426.8,335.1 427.1,333.7 427.2,332.8 427.6,331.5 428.3,333.1 429.1,333.7 428.9,332.5 429.1,331.3 429.5,330.6 429.9,329.7 430.0,328.7 430.3,327.5 430.5,326.5 431.3,328.1 432.2,328.5 432.4,327.3 432.8,326.3 433.1,324.9 433.4,324.1 433.8,322.6 433.9,321.9 434.8,320.8 435.5,320.3 436.2,321.5 436.5,322.3 437.5,323.3 438.2,322.8 438.4,321.7 439.5,320.2 439.4,319.4 439.7,318.9 439.4,317.4 439.9,316.8 439.8,316.1 440.0,315.3 439.9,313.6 440.2,312.7 440.2,312.3 440.2,311.1 440.2,309.7 440.5,309.3 440.8,307.6 440.8,307.0 441.1,305.5 441.6,306.5 441.7,307.8 442.3,308.6 443.2,310.0 443.1,309.0 443.6,307.7 443.6,306.9 443.5,305.9 443.7,305.3 443.9,304.1 444.3,303.2 445.3,304.1 445.2,302.8 445.2,302.0 445.7,300.8 445.4,300.2 445.6,298.8 446.0,297.6 446.0,296.9 446.0,295.7 446.1,294.8 446.5,293.8 446.9,292.9 447.0,291.8 447.9,289.9 448.2,289.1 448.4,287.3 449.0,286.0 448.8,285.2 449.0,283.9 449.2,283.5 449.2,282.6 449.4,281.5 449.4,280.1 449.3,279.7 449.7,278.4 449.7,277.8 449.8,276.8 449.7,275.9 450.1,276.8 450.1,278.0 449.8,279.2 449.8,280.3 450.0,281.3 450.3,281.8 450.2,283.2 450.1,283.5 450.2,284.9 450.2,285.4 450.4,286.6 450.4,287.4 450.5,288.1 450.9,289.2 451.9,290.7 452.2,291.6 452.8,292.4 453.3,291.6 453.7,290.6 453.8,288.8 454.3,289.8 454.4,291.1 454.8,292.5 455.0,293.3 455.1,294.2 455.2,295.1 455.1,296.3 455.3,296.9 455.3,298.3 455.8,299.2 455.7,300.1 455.9,300.9 455.9,302.1 456.0,303.0 456.1,303.9 456.0,304.7 456.7,306.0 457.3,306.5 457.3,305.4 457.2,305.0 457.2,303.9 457.2,302.9 457.5,302.2 457.8,301.2 457.6,300.1 457.6,299.0 457.9,297.9 457.9,296.7 458.2,296.0 458.3,295.0 458.8,294.9 459.3,295.4 459.5,296.2 459.4,297.7 459.7,298.6 459.5,299.8 459.8,300.9 459.9,301.3 460.1,302.9 460.0,303.6 460.5,304.7 460.7,305.2 461.1,306.6 461.8,306.7 462.4,306.8 462.4,307.8 462.5,308.9 462.7,309.3 463.0,311.2 463.3,312.3 464.0,312.6 464.5,313.2 464.5,314.1 464.8,315.1 464.5,316.2 464.8,317.3 465.1,317.8 465.5,318.1 465.7,319.1 465.8,320.3 465.8,321.1 465.9,321.6 466.2,323.0 466.3,324.3 466.1,325.2 466.4,326.3 466.4,327.3 466.7,327.7 466.8,329.3 466.8,329.9 467.0,330.7 467.5,332.1 467.6,333.5 467.5,334.4 468.3,333.6 468.8,332.5 468.9,331.7 469.7,330.5 469.8,331.2 470.0,332.4 469.9,333.5 470.2,334.4 470.5,335.9 470.5,336.1 470.6,337.5 470.9,338.2 470.8,339.2 470.9,340.5 470.9,341.2 471.4,341.8 471.2,343.4 471.4,344.2 471.4,345.0 471.6,346.0 471.8,347.4 472.2,348.2 472.4,349.4 472.5,349.9 472.6,351.2 473.2,351.8 473.4,353.2 473.8,354.0 474.0,354.7 474.5,355.7 474.7,356.3 474.8,357.3 475.4,358.1 475.9,359.2 476.0,360.2 476.7,361.1 477.4,362.4 478.2,363.4 479.0,364.2 479.8,365.0 481.2,366.2 482.5,367.0 483.8,367.2 485.0,367.4" fill="none" stroke="#111" stroke-width="1.50" stroke-linejoin="round"/>
<path d="M90.8 338.0 L80.6 349.4" stroke="#111" stroke-width="1.5"/>
<path d="M74.0 356.9 L77.8 345.6 L84.8 351.8 Z" fill="#111"/>
<path d="M217.0 334.5 L207.2 345.9" stroke="#111" stroke-width="1.5"/>
<path d="M200.7 353.5 L204.3 342.1 L211.4 348.2 Z" fill="#111"/>
<path d="M361.9 316.6 L351.9 328.2" stroke="#111" stroke-width="1.5"/>
<path d="M345.4 335.8 L349.0 324.4 L356.1 330.5 Z" fill="#111"/>
<path d="M483.1 294.2 L472.3 306.1" stroke="#111" stroke-width="1.5"/>
<path d="M465.6 313.5 L469.5 302.2 L476.5 308.5 Z" fill="#111"/>
</svg></body></html>
